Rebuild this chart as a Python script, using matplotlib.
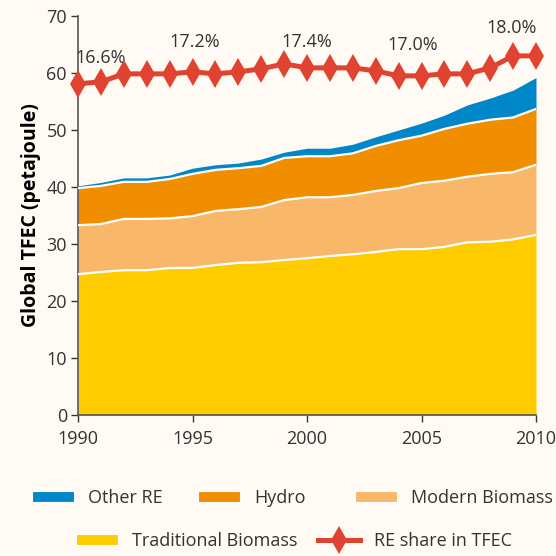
import matplotlib
matplotlib.use("Agg")
import matplotlib.pyplot as plt
from matplotlib.patches import Patch
from matplotlib.lines import Line2D
import numpy as np

plt.rcParams['font.family'] = ['Open Sans', 'DejaVu Sans']

years = list(range(1990, 2011))

# Cumulative tops of each stacked layer (petajoule)
traditional_top = [24.7, 25.1, 25.4, 25.4, 25.8, 25.8, 26.3, 26.7, 26.8, 27.2, 27.5,
                   27.9, 28.2, 28.6, 29.1, 29.1, 29.5, 30.3, 30.4, 30.8, 31.6]
modern_top = [33.3, 33.5, 34.4, 34.4, 34.5, 34.9, 35.8, 36.1, 36.5, 37.7, 38.2,
              38.2, 38.6, 39.3, 39.8, 40.7, 41.1, 41.8, 42.3, 42.6, 43.9]
hydro_top = [39.8, 40.2, 40.9, 40.9, 41.4, 42.3, 43.0, 43.3, 43.7, 45.1, 45.4,
             45.4, 45.9, 47.2, 48.2, 49.0, 50.2, 51.1, 51.8, 52.2, 53.7]
other_top = [40.2, 40.8, 41.6, 41.6, 42.1, 43.3, 43.9, 44.2, 44.9, 46.1, 46.8,
             46.8, 47.5, 48.8, 50.0, 51.2, 52.6, 54.4, 55.6, 57.0, 59.2]

# Renewable share of TFEC (%)
re_share = [16.6, 16.7, 17.1, 17.1, 17.1, 17.2, 17.1, 17.2, 17.35, 17.6, 17.4,
            17.4, 17.4, 17.25, 17.0, 17.0, 17.1, 17.1, 17.4, 18.0, 18.0]
share_scale = 3.5  # share plotted against the petajoule axis

label_years = [1990, 1995, 2000, 2005, 2010]
label_dx = [1.0, 0.1, 0.0, -0.4, -1.05]
label_dy = [4.6, 5.2, 4.5, 5.4, 4.9]

x_ticks = [1990, 1995, 2000, 2005, 2010]
y_ticks = [0, 10, 20, 30, 40, 50, 60, 70]

bg = '#fffaf4'
c_trad = '#ffcc00'
c_modern = '#f9b769'
c_hydro = '#f18e00'
c_other = '#0087c9'
c_red = '#e0432f'
txt = '#333333'
fs = 13

fig = plt.figure(figsize=(5.56, 5.56), dpi=100, facecolor=bg)
ax = fig.add_axes([78/556, 1 - 415/556, 458/556, 399/556], facecolor=bg)

x = np.array(years)
layers = [
    (np.zeros(len(x)), np.array(traditional_top), c_trad),
    (np.array(traditional_top), np.array(modern_top), c_modern),
    (np.array(modern_top), np.array(hydro_top), c_hydro),
    (np.array(hydro_top), np.array(other_top), c_other),
]
for lo, hi, col in layers:
    ax.fill_between(x, lo, hi, color=col, linewidth=0, zorder=2)
for top in (traditional_top, modern_top, hydro_top):
    ax.plot(x, top, color='white', linewidth=1.6, zorder=3)

share_y = np.array(re_share) * share_scale
ax.plot(x, share_y, color=c_red, linewidth=3.6, marker='d', markersize=14,
        markeredgewidth=0, zorder=4, clip_on=False)

for yr, dx, dy in zip(label_years, label_dx, label_dy):
    i = years.index(yr)
    ax.text(yr + dx, share_y[i] + dy, f"{re_share[i]:.1f}%", ha='center', va='center',
            fontsize=fs, color=txt)

ax.set_xlim(1990, 2010)
ax.set_ylim(0, 70)
ax.set_xticks(x_ticks)
ax.set_yticks(y_ticks)
ax.tick_params(axis='both', labelsize=fs, labelcolor=txt, color=txt, length=5,
               width=1, direction='out')
ax.tick_params(axis='x', pad=6)
ax.tick_params(axis='y', pad=3)
for s in ('top', 'right'):
    ax.spines[s].set_visible(False)
for s in ('left', 'bottom'):
    ax.spines[s].set_color('#555555')
    ax.spines[s].set_linewidth(1.2)
ax.set_ylabel('Global TFEC (petajoule)', fontsize=14, fontweight='bold', color='black',
              labelpad=4)


def entry(handle, label, fx, fy):
    fig.legend(handles=[handle], labels=[label], loc='center left',
               bbox_to_anchor=(fx / 556, 1 - fy / 556), frameon=False, fontsize=fs,
               handlelength=2.32, handleheight=0.5, handletextpad=0.78,
               borderpad=0, borderaxespad=0, labelcolor=txt)


entry(Patch(facecolor=c_other, edgecolor='white', linewidth=0.8), 'Other RE', 32, 498)
entry(Patch(facecolor=c_hydro, edgecolor='white', linewidth=0.8), 'Hydro', 198, 498)
entry(Patch(facecolor=c_modern, edgecolor='white', linewidth=0.8), 'Modern Biomass', 355, 498)
entry(Patch(facecolor=c_trad, edgecolor='white', linewidth=0.8), 'Traditional Biomass', 76, 541)
entry(Line2D([], [], color=c_red, linewidth=3.6, marker='d', markersize=14,
             markeredgewidth=0), 'RE share in TFEC', 318, 541)

fig.savefig('out.png', dpi=100, facecolor=bg)
